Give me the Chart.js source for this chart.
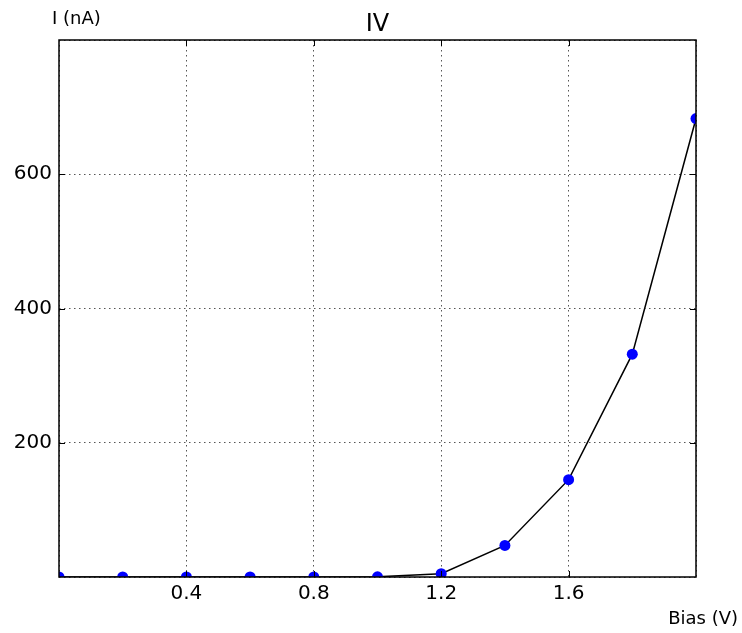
<!DOCTYPE html>
<html>
<head>
<meta charset="utf-8">
<script src="https://cdn.jsdelivr.net/npm/chart.js@4"></script>
<style>
  html, body { margin: 0; padding: 0; background: #fff; }
  #wrap { width: 742px; height: 633px; }
</style>
</head>
<body>
<div id="wrap"><canvas id="ivChart" width="742" height="633"></canvas></div>
<script>
// IV CURVE

const bias = [0, 0.2, 0.4, 0.6, 0.8, 1.0, 1.2, 1.4, 1.6, 1.8, 2.0];
const current = [0, 0, 0, 0, 0, 0.3, 5, 47, 145, 332, 683];
const xTicks = [0.4, 0.8, 1.2, 1.6];
const yTicks = [200, 400, 600];

const FONT = 'DejaVu Sans';

// frame, inner ticks and the corner labels (matplotlib look)
const framePlugin = {
  id: 'frame',
  afterDraw(chart) {
    const { ctx, chartArea: a, scales } = chart;
    ctx.save();
    ctx.strokeStyle = '#000';
    ctx.lineWidth = 1;
    // inner ticks
    ctx.beginPath();
    xTicks.forEach(v => {
      const x = Math.round(scales.x.getPixelForValue(v)) + 0.5;
      ctx.moveTo(x, a.bottom); ctx.lineTo(x, a.bottom - 6);
      ctx.moveTo(x, a.top); ctx.lineTo(x, a.top + 6);
    });
    yTicks.forEach(v => {
      const y = Math.round(scales.y.getPixelForValue(v)) + 0.5;
      ctx.moveTo(a.left, y); ctx.lineTo(a.left + 6, y);
      ctx.moveTo(a.right, y); ctx.lineTo(a.right - 6, y);
    });
    ctx.stroke();
    // box
    ctx.lineWidth = 1.5;
    ctx.strokeRect(a.left, a.top, a.right - a.left, a.bottom - a.top);

    ctx.fillStyle = '#000';
    ctx.font = '24px ' + FONT;
    ctx.textAlign = 'center';
    ctx.textBaseline = 'alphabetic';
    ctx.fillText('IV', (a.left + a.right) / 2, 31);

    ctx.font = '18px ' + FONT;
    ctx.textAlign = 'left';
    ctx.fillText('I (nA)', 52, 24);
    ctx.textAlign = 'right';
    ctx.fillText('Bias (V)', 738, 624);
    ctx.restore();
  }
};

new Chart(document.getElementById('ivChart'), {
  type: 'line',
  data: {
    datasets: [{
      data: bias.map((b, i) => ({ x: b, y: current[i] })),
      borderColor: '#000',
      borderWidth: 1.5,
      pointRadius: 5.5,
      pointBackgroundColor: '#0000ff',
      pointBorderColor: '#0000ff',
      pointBorderWidth: 0,
      tension: 0
    }]
  },
  options: {
    responsive: false,
    animation: false,
    devicePixelRatio: 1,
    layout: { padding: { top: 40, right: 46, left: 0, bottom: 0 } },
    plugins: {
      legend: { display: false },
      tooltip: { enabled: false },
      title: { display: false }
    },
    scales: {
      x: {
        type: 'linear',
        min: 0,
        max: 2.0,
        afterFit(scale) { scale.height = 56; },
        afterBuildTicks(scale) {
          scale.ticks = [0, ...xTicks, 2.0].map(v => ({ value: v }));
        },
        ticks: {
          color: '#000',
          font: { family: FONT, size: 20 },
          padding: 5,
          maxRotation: 0,
          callback: v => xTicks.includes(v) ? v.toFixed(1) : ''
        },
        grid: { color: '#555', lineWidth: 1, drawTicks: false },
        border: { display: false, dash: [1.5, 3.5] }
      },
      y: {
        min: 0,
        max: 800,
        afterFit(scale) { scale.width = 59; },
        afterBuildTicks(scale) {
          scale.ticks = [0, ...yTicks, 800].map(v => ({ value: v }));
        },
        ticks: {
          color: '#000',
          font: { family: FONT, size: 20 },
          padding: 7,
          callback: v => yTicks.includes(v) ? String(v) : ''
        },
        grid: { color: '#555', lineWidth: 1, drawTicks: false },
        border: { display: false, dash: [1.5, 3.5] }
      }
    }
  },
  plugins: [framePlugin]
});
</script>
</body>
</html>
